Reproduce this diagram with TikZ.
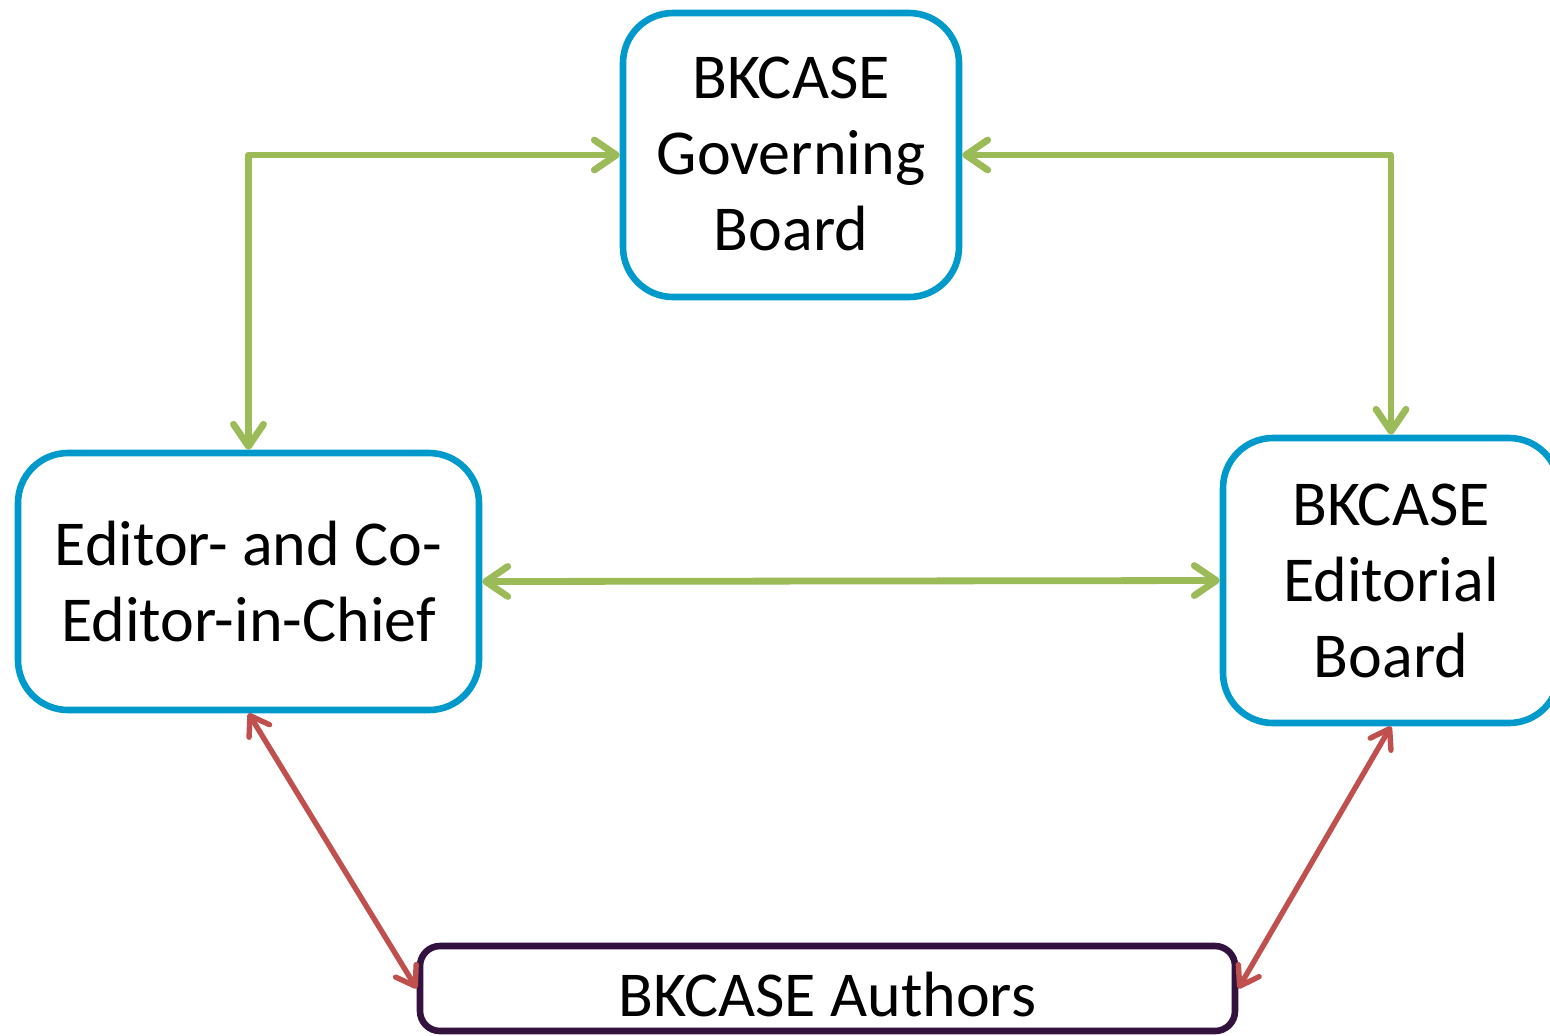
\documentclass[tikz,border=0pt]{standalone}
\usepackage{fontspec}
\setmainfont{Carlito}
\usetikzlibrary{arrows.meta}
\definecolor{boxblue}{RGB}{0,153,204}
\definecolor{arrgreen}{RGB}{155,187,89}
\definecolor{arrred}{RGB}{192,80,77}
\definecolor{authpurple}{RGB}{52,18,64}
\begin{document}
\begin{tikzpicture}[x=0.5pt,y=-0.5pt,
  box/.style={draw=boxblue,line width=3.3pt,rounded corners=25pt,align=center,
    font=\fontsize{32}{38}\selectfont,inner sep=0pt},
  authbox/.style={draw=authpurple,line width=3.3pt,rounded corners=10pt,
    font=\fontsize{32}{38}\selectfont,inner sep=0pt,text height=30pt,text depth=2pt},
  garrow/.style={draw=arrgreen,line width=3.4pt,line cap=round,line join=round,
    {Straight Barb[length=11pt,width=15pt,round]}-{Straight Barb[length=11pt,width=15pt,round]}},
  rarrow/.style={draw=arrred,line width=2.7pt,line cap=round,
    {Straight Barb[length=9pt,width=12pt,round]}-{Straight Barb[length=9pt,width=12pt,round]}}
]
\clip (0,0) rectangle (1550,1035);
\fill[white] (0,0) rectangle (1550,1035);
\node[box,minimum width=168pt,minimum height=142pt,text depth=1pt] (gov) at (791,155) {BKCASE\\Governing\\Board};
\node[box,minimum width=230.5pt,minimum height=128.5pt] (ed) at (248.5,581.5) {Editor- and Co-\\Editor-in-Chief};
\node[box,minimum width=168pt,minimum height=142.5pt] (eb) at (1391,580.5) {BKCASE\\Editorial\\Board};
\node[authbox,minimum width=407.5pt,minimum height=42.5pt] (au) at (827.5,988.5) {BKCASE Authors};
\draw[garrow] (gov.west) -| (ed.north);
\draw[garrow] (gov.east) -| (eb.north);
\draw[garrow] (ed.east) -- (eb.west);
\draw[rarrow] (ed.south) -- (au.west);
\draw[rarrow] (eb.south) -- (au.east);
\end{tikzpicture}
\end{document}
